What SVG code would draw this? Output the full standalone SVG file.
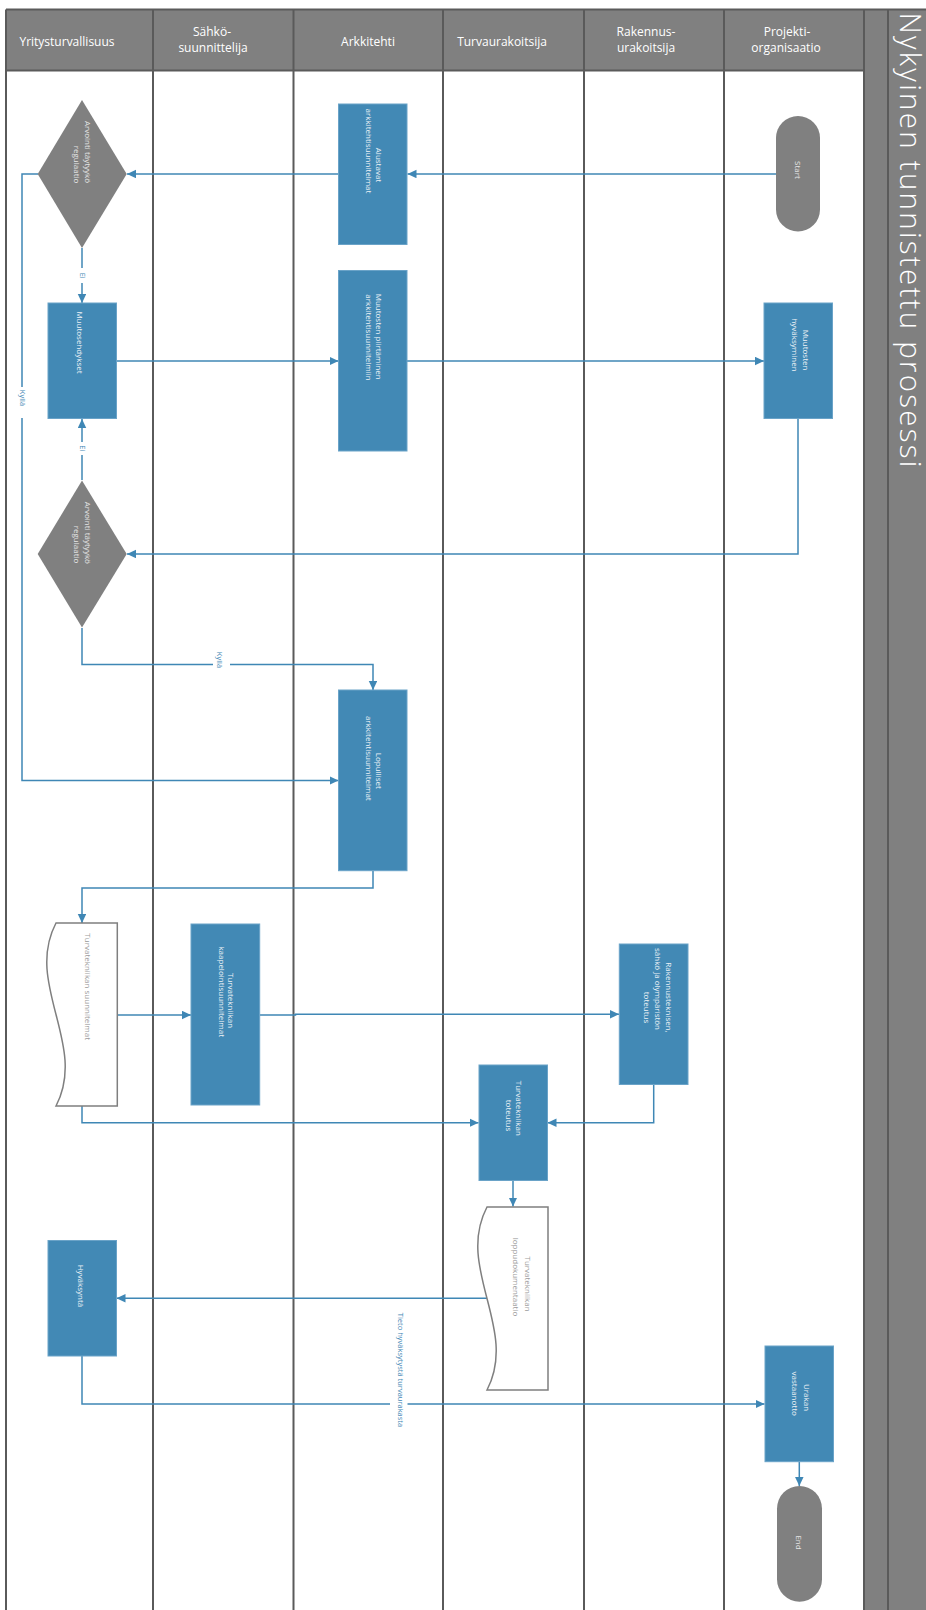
<svg xmlns="http://www.w3.org/2000/svg" width="926" height="1610" viewBox="0 0 926 1610">
<defs>
<marker id="arrow" markerUnits="userSpaceOnUse" markerWidth="10" markerHeight="10" refX="9" refY="4.25" orient="auto"><path d="M0,0 L9,4.25 L0,8.5 Z" fill="#3f87b5"/></marker>
<style>
.lane{stroke:#5a5a5a;stroke-width:2;fill:none}
.hdr{fill:#808080}
.ht{font-family:"Open Sans","Liberation Sans",sans-serif;font-size:12px;fill:#ffffff;text-anchor:middle}
.box{fill:#4289b5;stroke:#6aa3c8;stroke-width:1}
.gray{fill:#808080}
.doc{fill:#ffffff;stroke:#7f7f7f;stroke-width:1.5}
.bt{font-family:"Open Sans","Liberation Sans",sans-serif;font-size:8px;fill:#eef3f7;text-anchor:middle}
.gt{font-family:"Open Sans","Liberation Sans",sans-serif;font-size:8px;fill:#e6e6e6;text-anchor:middle}
.dt{font-family:"Open Sans","Liberation Sans",sans-serif;font-size:8px;fill:#9a9a9a;text-anchor:middle}
.conn{fill:none;stroke:#3f87b5;stroke-width:1.5}
.arr{marker-end:url(#arrow)}
.lbl{font-family:"Open Sans","Liberation Sans",sans-serif;font-size:7.5px;fill:#3f87b5;text-anchor:middle}
.gap{fill:#ffffff}
.title{font-family:"Open Sans","Liberation Sans",sans-serif;font-size:29.5px;font-weight:300;fill:#ffffff}
</style>
</defs>
<rect x="0" y="0" width="926" height="1610" fill="#ffffff"/>

<g id="pool">
<rect class="hdr" x="6" y="9.5" width="858" height="61"/>
<rect class="hdr" x="864" y="9.5" width="62" height="1601"/>
<line class="lane" x1="6" y1="9.5" x2="926" y2="9.5"/>
<line class="lane" x1="6" y1="70.5" x2="864" y2="70.5"/>
<line class="lane" x1="6" y1="9.5" x2="6" y2="1610"/>
<line class="lane" x1="153" y1="9.5" x2="153" y2="1610"/>
<line class="lane" x1="293.5" y1="9.5" x2="293.5" y2="1610"/>
<line class="lane" x1="443" y1="9.5" x2="443" y2="1610"/>
<line class="lane" x1="584" y1="9.5" x2="584" y2="1610"/>
<line class="lane" x1="724" y1="9.5" x2="724" y2="1610"/>
<line class="lane" x1="864" y1="9.5" x2="864" y2="1610"/>
<line class="lane" x1="888" y1="9.5" x2="888" y2="1610"/>
<text class="ht" x="67" y="46">Yritysturvallisuus</text>
<text class="ht" x="212" y="36">Sähkö-</text>
<text class="ht" x="213" y="52">suunnittelija</text>
<text class="ht" x="368" y="46">Arkkitehti</text>
<text class="ht" x="502" y="46">Turvaurakoitsija</text>
<text class="ht" x="646" y="36">Rakennus-</text>
<text class="ht" x="646" y="52">urakoitsija</text>
<text class="ht" x="787" y="36">Projekti-</text>
<text class="ht" x="786" y="52">organisaatio</text>
<text class="title" transform="translate(899.5,12.5) rotate(90)" textLength="455" lengthAdjust="spacing">Nykyinen tunnistettu prosessi</text>
</g>

<g id="connectors">
<path class="conn arr" d="M776,174 H407.5"/>
<path class="conn arr" d="M338.5,174 H127"/>
<path class="conn arr" d="M82,248 V303"/>
<path class="conn arr" d="M38,174 H22 V780.5 H338.5"/>
<path class="conn arr" d="M116.5,361 H338.5"/>
<path class="conn arr" d="M407,361 H764"/>
<path class="conn arr" d="M798,419 V554 H127"/>
<path class="conn arr" d="M82,480 V419"/>
<path class="conn arr" d="M82,628 V664.5 H373 V690"/>
<path class="conn arr" d="M373,871 V888 H82 V923"/>
<path class="conn arr" d="M117.5,1015 H191"/>
<path class="conn arr" d="M260,1015 H295.5 V1014.3 H619"/>
<path class="conn arr" d="M653.7,1084.5 V1122.7 H547.5"/>
<path class="conn arr" d="M82,1106 V1122.7 H478.5"/>
<path class="conn arr" d="M513,1180.5 V1206.5"/>
<path class="conn arr" d="M487,1298.3 H116.5"/>
<path class="conn arr" d="M82,1356 V1404 H764.5"/>
<path class="conn arr" d="M799.3,1462 V1486"/>
<rect class="gap" x="77" y="268" width="10" height="15"/>
<text class="lbl" transform="translate(79.5,275.7) rotate(90)">Ei</text>
<rect class="gap" x="17" y="387" width="10" height="31"/>
<text class="lbl" transform="translate(19.5,398) rotate(90)">Kyllä</text>
<rect class="gap" x="77" y="442" width="10" height="13"/>
<text class="lbl" transform="translate(79.5,448.3) rotate(90)">Ei</text>
<rect class="gap" x="213" y="651" width="17" height="18"/>
<text class="lbl" transform="translate(216.5,660) rotate(90)">Kyllä</text>
<rect class="gap" x="390" y="1307" width="17.5" height="125"/>
<text class="lbl" transform="translate(397.5,1370) rotate(90)">Tieto hyväksytystä turvaurakasta</text>
</g>

<g id="start">
<rect class="gray" x="776" y="116" width="44" height="115.5" rx="22" ry="22"/>
<text class="gt" transform="translate(794.5,170) rotate(90)">Start</text>
</g>

<g id="alustavat">
<rect class="box" x="338.5" y="104" width="68.5" height="140.5"/>
<text class="bt" transform="translate(375.8,165) rotate(90)">Alustavat</text>
<text class="bt" transform="translate(365.5,151) rotate(90)">arkkitehtisuunnitelmat</text>
</g>

<g id="arviointi1">
<path class="gray" d="M82,100 L126.7,174 L82,248 L37.7,174 Z"/>
<text class="gt" transform="translate(85.1,152) rotate(90)">Arvointi täytyykö</text>
<text class="gt" transform="translate(73.8,164.5) rotate(90)">regulaatio</text>
</g>

<g id="muutosehdykset">
<rect class="box" x="48" y="303" width="68.5" height="115.5"/>
<text class="bt" transform="translate(77.1,342.5) rotate(90)">Muutosehdykset</text>
</g>

<g id="piirtaminen">
<rect class="box" x="338.5" y="270.5" width="68.5" height="180.5"/>
<text class="bt" transform="translate(376.1,336.7) rotate(90)">Muutosten piirtäminen</text>
<text class="bt" transform="translate(365.5,337.5) rotate(90)">arkkitehtisuunnitelmiin</text>
</g>

<g id="hyvaksyminen">
<rect class="box" x="764" y="303" width="68.5" height="115.5"/>
<text class="bt" transform="translate(802.8,350) rotate(90)">Muutosten</text>
<text class="bt" transform="translate(791.5,345) rotate(90)">hyväksyminen</text>
</g>

<g id="arviointi2">
<path class="gray" d="M82,480.5 L126.7,554 L82,627.5 L37.7,554 Z"/>
<text class="gt" transform="translate(85.1,532.8) rotate(90)">Arvointi täytyykö</text>
<text class="gt" transform="translate(73.8,544.5) rotate(90)">regulaatio</text>
</g>

<g id="lopulliset">
<rect class="box" x="338.5" y="690" width="68.5" height="180.7"/>
<text class="bt" transform="translate(376.1,770.8) rotate(90)">Lopulliset</text>
<text class="bt" transform="translate(365.5,758.3) rotate(90)">arkkitehtisuunnitelmat</text>
</g>

<g id="doc-suunnitelmat">
<path class="doc" d="M56,923 H117.3 V1106 H56 C88,1045 24,984 56,923 Z"/>
<text class="dt" transform="translate(85.1,986.7) rotate(90)">Turvatekniikan suunnitelmat</text>
</g>

<g id="kaapelointi">
<rect class="box" x="191" y="924" width="68.7" height="181"/>
<text class="bt" transform="translate(227.8,1000.5) rotate(90)">Turvatekniikan</text>
<text class="bt" transform="translate(218.5,991.7) rotate(90)">kaapelointisuunnitelmat</text>
</g>

<g id="rakennus">
<rect class="box" x="619.3" y="944" width="68.7" height="140.5"/>
<text class="bt" transform="translate(665.5,997.5) rotate(90)">Rakennusteknisen,</text>
<text class="bt" transform="translate(654.5,989) rotate(90)">sähkö ja olympäristön</text>
<text class="bt" transform="translate(643.8,1007.5) rotate(90)">toteutus</text>
</g>

<g id="toteutus">
<rect class="box" x="479" y="1065" width="68.5" height="115.5"/>
<text class="bt" transform="translate(515.5,1108.3) rotate(90)">Turvatekniikan</text>
<text class="bt" transform="translate(505.5,1115.5) rotate(90)">toteutus</text>
</g>

<g id="doc-loppudokumentaatio">
<path class="doc" d="M487,1207 H548 V1390 H487 C519,1329 455,1268 487,1207 Z"/>
<text class="dt" transform="translate(525.2,1284) rotate(90)">Turvatekniikan</text>
<text class="dt" transform="translate(513.4,1277) rotate(90)">loppudokumentaatio</text>
</g>

<g id="hyvaksynta">
<rect class="box" x="48" y="1240.5" width="68.5" height="115.5"/>
<text class="bt" transform="translate(77.5,1286) rotate(90)">Hyväksyntä</text>
</g>

<g id="urakan-vastaanotto">
<rect class="box" x="765" y="1346" width="68.5" height="115.7"/>
<text class="bt" transform="translate(803.8,1397.5) rotate(90)">Urakan</text>
<text class="bt" transform="translate(792.1,1393.7) rotate(90)">vastaanotto</text>
</g>

<g id="end">
<rect class="gray" x="777" y="1486" width="45" height="115.7" rx="22.5" ry="22.5"/>
<text class="gt" transform="translate(795.5,1542.5) rotate(90)">End</text>
</g>
</svg>
